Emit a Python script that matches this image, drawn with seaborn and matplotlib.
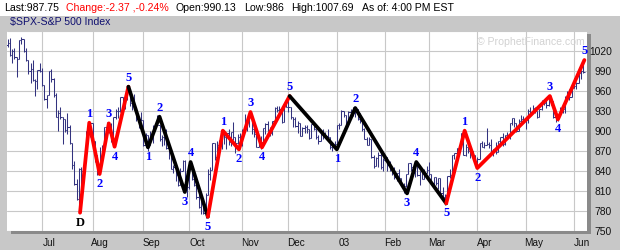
import matplotlib
matplotlib.use("Agg")
import matplotlib.pyplot as plt
from matplotlib.patches import Rectangle
import seaborn as sns
import pandas as pd

# ---------------- data (daily bars, Jun 10 2002 .. Jun 6 2003, by trading day) ----------------
close = [1031, 1014, 1020, 1010, 1007, 1036, 1037, 1020, 1006, 989, 993, 976, 974, 991, 990,
         969, 948, 954, 989, 977, 953, 920, 927, 921, 918, 901, 906, 882, 848, 820, 798, 843, 839, 853, 899, 903, 912,
         885, 864, 835, 860, 877, 905, 909, 904, 884, 920, 930, 929, 951, 937, 949, 963, 941, 948, 935, 918, 918, 916,
         878, 893, 879, 894, 903, 910, 909, 887, 890, 891, 874, 869, 843, 845, 834, 819, 840, 855, 827, 815,
         848, 828, 819, 801, 785, 799, 777, 804, 835, 841, 881, 860, 879, 884, 900, 890, 896, 883, 898, 890, 882, 891, 886,
         901, 908, 915, 924, 903, 895, 876, 883, 883, 904, 910, 900, 897, 914, 934, 931, 933, 913, 939, 936,
         935, 921, 918, 907, 912, 892, 904, 905, 902, 889, 910, 903, 891, 884, 896, 897, 892, 890, 875, 879, 880,
         909, 909, 929, 923, 910, 928, 928, 926, 932, 918, 915, 902, 888, 878, 887, 861, 847, 859, 864, 845, 856,
         860, 848, 844, 838, 830, 836, 829, 819, 817, 835, 851, 845, 837, 848, 833, 839, 828, 837, 841,
         835, 822, 830, 822, 829, 807, 801, 804, 832, 833, 863, 866, 874, 876, 896, 864, 875, 870, 869, 864, 848,
         858, 881, 876, 879, 880, 878, 866, 872, 868, 885, 891, 880, 894, 892, 911, 919, 911, 899, 915, 918, 917,
         916, 930, 927, 934, 930, 920, 933, 945, 942, 939, 947, 944, 921, 920, 923, 932, 933, 951, 953, 950, 964,
         967, 972, 986, 990, 988]
open_ = [1028, 1031, 1014, 1020, 1010, 1007, 1036, 1037, 1020, 1006, 989, 993, 976, 974, 991,
         990, 969, 948, 954, 989, 977, 953, 920, 927, 921, 918, 901, 906, 882, 848, 820, 798, 843, 839, 853, 899, 903,
         912, 885, 864, 835, 860, 877, 905, 909, 904, 884, 920, 930, 929, 951, 937, 949, 963, 941, 948, 935, 918, 918,
         916, 878, 893, 879, 894, 903, 910, 909, 887, 890, 891, 874, 869, 843, 845, 834, 819, 840, 855, 827,
         815, 848, 828, 819, 801, 785, 799, 777, 804, 835, 841, 881, 860, 879, 884, 900, 890, 896, 883, 898, 890, 882, 891,
         886, 901, 908, 915, 924, 903, 895, 876, 883, 883, 904, 910, 900, 897, 914, 934, 931, 933, 913, 939,
         936, 935, 921, 918, 907, 912, 892, 904, 905, 902, 889, 910, 903, 891, 884, 896, 897, 892, 890, 875, 879,
         880, 909, 909, 929, 923, 910, 928, 928, 926, 932, 918, 915, 902, 888, 878, 887, 861, 847, 859, 864, 845,
         856, 860, 848, 844, 838, 830, 836, 829, 819, 817, 835, 851, 845, 837, 848, 833, 839, 828, 837,
         841, 835, 822, 830, 822, 829, 807, 801, 804, 832, 833, 863, 866, 874, 876, 896, 864, 875, 870, 869, 864,
         848, 858, 881, 876, 879, 880, 878, 866, 872, 868, 885, 891, 880, 894, 892, 911, 919, 911, 899, 915, 918,
         917, 916, 930, 927, 934, 930, 920, 933, 945, 942, 939, 947, 944, 921, 920, 923, 932, 933, 951, 953, 950,
         964, 967, 972, 986, 990]
high = [1038, 1039, 1022, 1024, 1010, 1036, 1040, 1037, 1024, 1006, 1002, 1006, 977, 991, 1001,
        994, 969, 954, 989, 993, 979, 956, 931, 935, 921, 918, 926, 908, 882, 855, 828, 844, 846, 853, 899, 910, 912,
        912, 885, 864, 875, 878, 905, 913, 909, 911, 920, 933, 935, 951, 951, 951, 965, 963, 950, 955, 935, 921, 928,
        916, 896, 893, 900, 908, 910, 924, 909, 893, 892, 902, 878, 869, 849, 845, 834, 844, 856, 856, 827,
        848, 852, 836, 826, 809, 807, 799, 806, 843, 845, 881, 881, 885, 886, 901, 900, 897, 903, 898, 913, 890, 895, 896,
        903, 925, 915, 925, 924, 905, 895, 894, 892, 904, 911, 915, 905, 915, 935, 937, 937, 933, 940, 941,
        954, 935, 921, 921, 915, 912, 905, 909, 909, 902, 910, 910, 903, 894, 897, 903, 898, 903, 891, 882, 884,
        909, 911, 931, 930, 923, 930, 932, 935, 932, 932, 926, 915, 904, 890, 891, 888, 864, 860, 868, 866, 859,
        864, 860, 855, 844, 845, 837, 843, 829, 821, 835, 852, 851, 846, 851, 848, 839, 840, 843, 847,
        853, 835, 830, 830, 829, 829, 815, 805, 832, 842, 863, 866, 874, 879, 896, 896, 880, 875, 874, 869, 864,
        861, 881, 885, 883, 904, 883, 887, 872, 883, 885, 891, 896, 894, 898, 911, 919, 919, 911, 918, 924, 922,
        919, 932, 936, 939, 935, 930, 933, 946, 945, 948, 948, 949, 944, 926, 924, 935, 935, 952, 959, 963, 965,
        979, 973, 987, 991, 1008]
low = [1025, 1012, 1002, 1008, 981, 1007, 1030, 1018, 1005, 985, 971, 974, 952, 963, 988,
       967, 946, 934, 954, 973, 951, 920, 900, 918, 880, 898, 895, 880, 842, 818, 796, 776, 817, 836, 853, 893, 890,
       881, 853, 834, 835, 856, 875, 890, 896, 883, 876, 918, 919, 928, 935, 932, 946, 937, 931, 931, 915, 904, 914,
       877, 875, 870, 879, 882, 900, 908, 885, 877, 879, 872, 857, 843, 837, 825, 817, 819, 839, 826, 800,
       812, 826, 817, 798, 784, 775, 775, 769, 804, 826, 841, 856, 860, 866, 873, 880, 873, 879, 877, 886, 867, 880, 883,
       877, 901, 899, 905, 895, 891, 876, 876, 872, 883, 895, 899, 892, 894, 914, 928, 923, 912, 913, 935,
       928, 918, 905, 905, 896, 892, 892, 896, 897, 887, 889, 901, 888, 880, 884, 888, 892, 887, 873, 870, 873,
       880, 903, 909, 920, 908, 910, 917, 922, 921, 916, 911, 899, 887, 878, 878, 859, 844, 847, 845, 843, 840,
       855, 840, 840, 833, 827, 824, 826, 818, 806, 815, 835, 840, 836, 831, 832, 818, 827, 828, 837,
       832, 821, 819, 819, 812, 806, 800, 789, 804, 829, 828, 857, 861, 862, 876, 864, 862, 866, 859, 860, 847,
       847, 858, 876, 874, 879, 874, 865, 862, 865, 868, 880, 877, 879, 888, 887, 909, 906, 898, 899, 911, 911,
       902, 912, 925, 926, 926, 919, 920, 931, 938, 934, 937, 939, 919, 913, 914, 923, 927, 927, 948, 946, 950,
       964, 963, 971, 978, 986]

# Elliott-wave pivots (trading-day position, level, label)
piv_x = [31.5, 35.5, 40, 44, 46.5, 52.5, 61, 66, 77, 79.5, 87, 93.5, 100.5, 105.5, 110.5, 122.5,
         143, 151, 173.5, 177.5, 190.5, 198.5, 204, 235.5, 239, 250.5]
piv_y = [777, 912, 835, 911, 876, 966, 875, 921, 808, 853, 771, 900, 872, 928, 875, 952,
         872, 934, 806, 853, 791, 900, 844, 952, 917, 1006]
piv_label = ['D', '1', '2', '3', '4', '5', '1', '2', '3', '4', '5', '1', '2', '3', '4', '5',
             '1', '2', '3', '4', '5', '1', '2', '3', '4', '5']
wave_colors = ['#FF0000', '#000000', '#FF0000', '#000000', '#FF0000']

month_idx = [15, 37, 59, 79, 102, 122, 143, 164, 183, 204, 225, 246]
month_labels = ['Jul', 'Aug', 'Sep', 'Oct', 'Nov', 'Dec', '03', 'Feb', 'Mar', 'Apr', 'May', 'Jun']
y_ticks = [750, 780, 810, 840, 870, 900, 930, 960, 990, 1020]

header_parts = [("Last:987.75", "black"), ("Change:-2.37 ,-0.24%", "#FF0000"),
                ("Open:990.13", "black"), ("Low:986", "black"),
                ("High:1007.69", "black"), ("As of: 4:00 PM EST", "black")]
header_x = [4.5, 66, 176, 244, 291, 362]
title = "$SPX-S&P 500 Index"

# ---------------- figure ----------------
sns.set_style("white")
plt.rcParams['font.family'] = ['Liberation Sans', 'DejaVu Sans']

W, H = 620, 250
fig = plt.figure(figsize=(6.2, 2.5), dpi=100, facecolor='white')

def fx(px):
    return px / W

def fy(py):
    return 1 - py / H

# gray panel
fig.patches.append(Rectangle((0, 0), 1, fy(15.5), transform=fig.transFigure,
                             facecolor='#C8C8C8', edgecolor='none', zorder=-3))
# drop shadow behind plot area
ax_l, ax_r, ax_t, ax_b = 7, 587.3, 30.7, 230.7
fig.patches.append(Rectangle((fx(ax_l + 3.5), fy(ax_b + 3.2)), fx(ax_r - ax_l), fy(ax_t + 3.5) - fy(ax_b + 3.2),
                             transform=fig.transFigure, facecolor='#8A8A8A', edgecolor='none', zorder=-2))

ax = fig.add_axes([fx(ax_l), fy(ax_b), fx(ax_r - ax_l), fy(ax_t) - fy(ax_b)])
ax.set_zorder(1)
ax.set_facecolor('white')
for s in ax.spines.values():
    s.set_visible(False)

ax.set_xlim(-0.22, 251.76)
ax.set_ylim(750, 1050)

# grid
ax.set_xticks(month_idx)
ax.set_xticklabels([''] * len(month_idx))
ax.set_xticks([m + 3.3 for m in month_idx], minor=True)
ax.set_xticklabels(month_labels, minor=True)
ax.set_yticks(y_ticks + [1050])
ax.set_yticklabels([str(v) for v in y_ticks] + [''])
ax.grid(True, which='major', color='#C8C8C8', linewidth=0.8)
ax.set_axisbelow(True)
ax.tick_params(axis='x', which='both', length=0, labelsize=7.2, pad=5.5, labelcolor='#111111')
ax.yaxis.tick_right()
ax.tick_params(axis='y', length=0, labelsize=7.4, pad=17.6, labelcolor='#111111')
for t in ax.get_yticklabels():
    t.set_horizontalalignment('right')

# OHLC bars
idx = list(range(len(close)))
bar_col = '#33337F'
ax.vlines(idx, low, high, color=bar_col, linewidth=0.75, zorder=2)
ax.hlines(open_, [i - 0.55 for i in idx], idx, color=bar_col, linewidth=0.75, zorder=2)
ax.hlines(close, idx, [i + 0.55 for i in idx], color=bar_col, linewidth=0.75, zorder=2)

# wave lines via seaborn
for k, col in enumerate(wave_colors):
    seg = pd.DataFrame({'x': piv_x[5 * k:5 * k + 6], 'y': piv_y[5 * k:5 * k + 6]})
    sns.lineplot(data=seg, x='x', y='y', sort=False, estimator=None, color=col,
                 linewidth=2.7, ax=ax, zorder=3)
ax.set_xlabel('')
ax.set_ylabel('')

# wave labels
n = len(piv_y)
for i in range(n):
    nb = []
    if i > 0:
        nb.append(piv_y[i - 1])
    if i < n - 1:
        nb.append(piv_y[i + 1])
    peak = piv_y[i] > max(nb)
    dy = 9 if peak else -10
    colr = 'black' if piv_label[i] == 'D' else '#0000FF'
    ax.annotate(piv_label[i], (piv_x[i], piv_y[i]), xytext=(0, dy), textcoords='offset pixels',
                ha='center', va='center', fontsize=9, fontweight='bold',
                family=['Liberation Serif', 'DejaVu Serif'], color=colr, zorder=4,
                annotation_clip=False)

# watermark
ax.text((531 - ax_l) / (ax_r - ax_l), (ax_b - 41.7) / (ax_b - ax_t), "\u00a9 ProphetFinance.com",
        transform=ax.transAxes, ha='center', va='center', fontsize=7.6, color='#D2D2D2', zorder=1)

# header
for (txt, col), x in zip(header_parts, header_x):
    fig.text(fx(x), fy(8), txt, color=col, fontsize=7.6, ha='left', va='center', parse_math=False)
fig.text(fx(10), fy(22.5), title, color='#101070', fontsize=7.6, ha='left', va='center', parse_math=False)

fig.savefig('out.png', dpi=100, facecolor='white')
